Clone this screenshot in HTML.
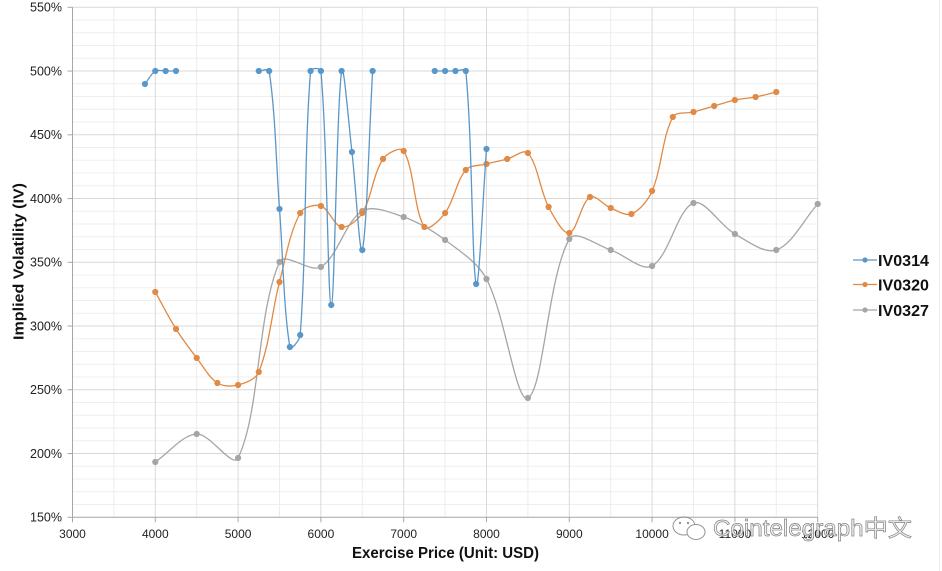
<!DOCTYPE html>
<html><head><meta charset="utf-8"><style>
html,body{margin:0;padding:0;background:#fff;}
body{width:942px;height:571px;overflow:hidden;}
svg{display:block;}
text{font-family:"Liberation Sans","Noto Sans CJK SC",sans-serif;}
</style></head><body>
<svg id="c" width="942" height="571" viewBox="0 0 942 571" xmlns="http://www.w3.org/2000/svg">
<rect x="0" y="0" width="942" height="571" fill="#fff"/>
<line x1="939.5" y1="0" x2="939.5" y2="571" stroke="#ececec" stroke-width="1"/>
<g id="grid"></g>
<g id="series"></g>
<g font-size="12.5" fill="#222" text-anchor="end">
<text x="62" y="11.5">550%</text>
<text x="62" y="75.3">500%</text>
<text x="62" y="139">450%</text>
<text x="62" y="202.8">400%</text>
<text x="62" y="266.5">350%</text>
<text x="62" y="330.3">300%</text>
<text x="62" y="394">250%</text>
<text x="62" y="457.8">200%</text>
<text x="62" y="521.5">150%</text>
</g>
<g font-size="12" fill="#222" text-anchor="middle">
<text x="72.5" y="538">3000</text>
<text x="155.3" y="538">4000</text>
<text x="238.1" y="538">5000</text>
<text x="320.9" y="538">6000</text>
<text x="403.7" y="538">7000</text>
<text x="486.5" y="538">8000</text>
<text x="569.3" y="538">9000</text>
<text x="652.1" y="538">10000</text>
<text x="734.9" y="538">11000</text>
<text x="817.7" y="538">12000</text>
</g>
<text x="445.5" y="558" font-size="15.5" font-weight="bold" fill="#111" text-anchor="middle" textLength="187" lengthAdjust="spacingAndGlyphs">Exercise Price (Unit: USD)</text>
<text transform="translate(23.5,261.5) rotate(-90)" font-size="15" font-weight="bold" fill="#111" text-anchor="middle" textLength="157" lengthAdjust="spacingAndGlyphs">Implied Volatility (IV)</text>
<g>
<line x1="853" y1="260" x2="877" y2="260" stroke="#5a97c9" stroke-width="1.3"/><circle cx="865" cy="260" r="2.6" fill="#5a97c9"/>
<line x1="853" y1="284.5" x2="877" y2="284.5" stroke="#e08a45" stroke-width="1.3"/><circle cx="865" cy="284.5" r="2.6" fill="#e08a45"/>
<line x1="853" y1="310" x2="877" y2="310" stroke="#a5a5a5" stroke-width="1.3"/><circle cx="865" cy="310" r="2.6" fill="#a5a5a5"/>
<g font-size="16" font-weight="bold" fill="#111">
<text x="878" y="266" textLength="51" lengthAdjust="spacingAndGlyphs">IV0314</text>
<text x="878" y="290.5" textLength="51" lengthAdjust="spacingAndGlyphs">IV0320</text>
<text x="878" y="316" textLength="51" lengthAdjust="spacingAndGlyphs">IV0327</text>
</g>
</g>
<g opacity="0.9">
<ellipse cx="684" cy="526" rx="11" ry="9" fill="none" stroke="#888" stroke-width="1"/>
<ellipse cx="696" cy="532" rx="9" ry="7.5" fill="#fff" stroke="#888" stroke-width="1"/>
<circle cx="680" cy="523" r="1.2" fill="#888"/><circle cx="688" cy="523" r="1.2" fill="#888"/>
<text x="713" y="536" font-size="23" fill="#f2f2f2" stroke="#777" stroke-width="0.7" textLength="199" lengthAdjust="spacingAndGlyphs">Cointelegraph中文</text>
</g>
</svg>
<script>
(function(){
var NS="http://www.w3.org/2000/svg";
var X0=72.5,SX=0.0828,Y0=517.3,SY=1.275;
function xp(v){return X0+(v-3000)*SX;}
function yp(p){return Y0-(p-150)*SY;}
var g=document.getElementById('grid');
function ln(p,x1,y1,x2,y2,c,w){var l=document.createElementNS(NS,'line');l.setAttribute('x1',x1);l.setAttribute('y1',y1);l.setAttribute('x2',x2);l.setAttribute('y2',y2);l.setAttribute('stroke',c);l.setAttribute('stroke-width',w);p.appendChild(l);}
var L=X0,R=xp(12000),T=yp(550),B=yp(150);
for(var p=150;p<=550;p+=10){if(p%50!==0)ln(g,L,yp(p),R,yp(p),'#efefef',1);}
for(var v=3500;v<12000;v+=1000){ln(g,xp(v),T,xp(v),B,'#ececec',1);}
for(var p=200;p<=550;p+=50){ln(g,L,yp(p),R,yp(p),'#d9d9d9',1);}
for(var v=4000;v<=12000;v+=1000){ln(g,xp(v),T,xp(v),B,'#d9d9d9',1);}
ln(g,L,T,L,B+0.5,'#a6a6a6',1);
ln(g,L-0.5,B,R,B,'#a6a6a6',1);
for(var p=150;p<=550;p+=50){ln(g,L-5,yp(p),L,yp(p),'#a6a6a6',1);}
for(var v=3000;v<=12000;v+=1000){ln(g,xp(v),B,xp(v),B+5,'#a6a6a6',1);}

var s=document.getElementById('series');
function dist(a,b){var dx=a[0]-b[0],dy=a[1]-b[1];return Math.sqrt(dx*dx+dy*dy);}
function ctrl(p0,p1,p2,out){
  // returns control point around p1; out=true -> toward p2, false -> toward p0
  var d1=dist(p0,p1),d2=dist(p1,p2);
  if(d1+d2===0) return [p1[0],p1[1]];
  var tx=p2[0]-p0[0],ty=p2[1]-p0[1];
  var f=(out?d2:d1)/(3*(d1+d2));
  if(out) return [p1[0]+tx*f,p1[1]+ty*f];
  return [p1[0]-tx*f,p1[1]-ty*f];
}
function draw(data,col){
  var pts=data.map(function(d){return [xp(d[0]),d[1]];});
  var d='M'+pts[0][0].toFixed(2)+','+pts[0][1].toFixed(2);
  for(var i=0;i<pts.length-1;i++){
    var p0=pts[i-1]||pts[i],p1=pts[i],p2=pts[i+1],p3=pts[i+2]||pts[i+1];
    var c1=ctrl(p0,p1,p2,true);
    var c2=ctrl(p1,p2,p3,false);
    d+=' C'+c1[0].toFixed(2)+','+c1[1].toFixed(2)+' '+c2[0].toFixed(2)+','+c2[1].toFixed(2)+' '+p2[0].toFixed(2)+','+p2[1].toFixed(2);
  }
  var pa=document.createElementNS(NS,'path');pa.setAttribute('d',d);pa.setAttribute('fill','none');pa.setAttribute('stroke',col);pa.setAttribute('stroke-width','1.3');s.appendChild(pa);
  pts.forEach(function(q){var c=document.createElementNS(NS,'circle');c.setAttribute('cx',q[0]);c.setAttribute('cy',q[1]);c.setAttribute('r','3.1');c.setAttribute('fill',col);s.appendChild(c);});
}
var gray=[[4000,462],[4500,434],[5000,458],[5500,262],[6000,267],[6500,211],[7000,217],[7500,240],[8000,279],[8500,398],[9000,239],[9500,250],[10000,266],[10500,203],[11000,234],[11500,250],[12000,204]];
var orange=[[4000,292],[4250,329],[4500,358],[4750,383],[5000,385],[5250,372],[5500,282],[5750,213],[6000,206],[6250,227],[6500,213],[6750,159],[7000,151],[7250,227],[7500,213],[7750,170],[8000,164],[8250,159],[8500,153],[8750,207],[9000,233],[9250,197],[9500,208],[9750,214],[10000,191],[10250,117],[10500,112],[10750,106],[11000,100],[11250,97],[11500,92]];
var b1=[[3875,84],[4000,71],[4125,71],[4250,71]];
var b2=[[5250,71],[5375,71],[5500,209],[5625,347],[5750,335],[5875,71],[6000,71],[6125,305],[6250,71],[6375,152],[6500,250],[6625,71]];
var b3=[[7375,71],[7500,71],[7625,71],[7750,71],[7875,284],[8000,149]];
draw(gray,'#a5a5a5');
draw(orange,'#e08a45');
draw(b1,'#5a97c9');draw(b2,'#5a97c9');draw(b3,'#5a97c9');
})();
</script>
</body></html>
